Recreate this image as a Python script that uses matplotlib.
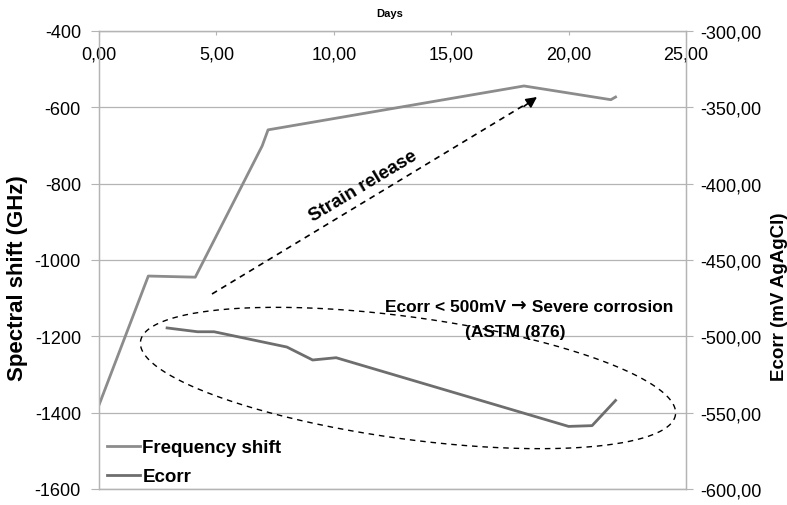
import numpy as np
import matplotlib
matplotlib.use("Agg")
import matplotlib.pyplot as plt
from matplotlib.ticker import FuncFormatter
from matplotlib.lines import Line2D

plt.rcParams['font.family'] = ['Liberation Sans', 'DejaVu Sans']

# ---- data ----
freq_days = [0.0, 2.1, 4.1, 6.95, 7.2, 18.1, 21.8, 22.0]
freq_shift = [-1380, -1042, -1045, -701, -659, -544, -580, -573]

ecorr_days = [2.9, 4.2, 4.9, 8.0, 9.1, 10.1, 20.0, 21.0, 22.0]
ecorr_vals = [-494.5, -497, -497, -507, -515.5, -514, -559, -558.5, -542]

left_ticks = [-1600, -1400, -1200, -1000, -800, -600, -400]
right_ticks = [-600, -550, -500, -450, -400, -350, -300]
day_ticks = [0, 5, 10, 15, 20, 25]

W, H = 787, 506
fig = plt.figure(figsize=(W / 100, H / 100), dpi=100)
L, R, T, B = 99, 686, 32, 490
ax = fig.add_axes([L / W, 1 - B / H, (R - L) / W, (B - T) / H])
ax2 = ax.twinx()

freq_col = '#8c8c8c'
ecorr_col = '#6e6e6e'
grid_col = '#b4b4b4'

ax.plot(freq_days, freq_shift, color=freq_col, lw=2.0, zorder=3)
ax2.plot(ecorr_days, ecorr_vals, color=ecorr_col, lw=2.0, zorder=3)

ax.set_xlim(0, 25)
ax.set_ylim(-1600, -400)
ax2.set_ylim(-600, -300)
ax.set_yticks(left_ticks)
ax2.set_yticks(right_ticks)
ax.set_xticks(day_ticks)

ax.yaxis.set_major_formatter(FuncFormatter(lambda v, p: f"{v:.0f}"))
ax2.yaxis.set_major_formatter(FuncFormatter(lambda v, p: f"{v:.2f}".replace('.', ',')))
ax.xaxis.set_major_formatter(FuncFormatter(lambda v, p: f"{v:.2f}".replace('.', ',')))

ax.grid(axis='y', color=grid_col, lw=0.9)
ax.set_axisbelow(True)

ax.tick_params(axis='x', top=True, labeltop=True, bottom=False, labelbottom=False,
               direction='in', length=3, pad=-23, labelsize=13, color=grid_col)
ax.tick_params(axis='y', direction='out', length=6, labelsize=13, color=grid_col, pad=7)
ax2.tick_params(axis='y', direction='out', length=5, labelsize=13, color=grid_col, pad=5)

for a in (ax, ax2):
    for s in a.spines.values():
        s.set_color(grid_col)
        s.set_linewidth(0.9)

ax.set_ylabel('Spectral shift (GHz)', fontsize=16, fontweight='bold')
ax.yaxis.set_label_coords((28 - L) / (R - L), (B - 278) / (B - T))
ax2.set_ylabel('Ecorr (mV AgAgCl)', fontsize=13.5, fontweight='bold')
ax2.yaxis.set_label_coords((771 - L) / (R - L), (B - 297) / (B - T))
fig.text(390 / W, 1 - 14 / H, 'Days', fontsize=8, fontweight='bold', ha='center', va='center')

# ---- annotations ----
def px2data(px, py):
    return (px - L) * 25 / (R - L), -400 - (py - T) * 1200 / (B - T)

sx, sy = px2data(212, 295)
ex, ey = px2data(531, 102)
tx, ty = px2data(537, 98)
ax.plot([sx, ex], [sy, ey], color='black', lw=1.2, ls=(0, (3.5, 3)), zorder=4)
ax.annotate('', xy=(tx, ty), xytext=(ex - 0.3, ey - 14),
            arrowprops=dict(arrowstyle='-|>', color='black', lw=1.2, mutation_scale=16,
                            shrinkA=0, shrinkB=0), zorder=5)

stx, sty = px2data(363, 187)
ax.text(stx, sty, 'Strain release', rotation=31, fontsize=13.5, fontweight='bold',
        ha='center', va='center', rotation_mode='anchor')

# "Ecorr < 500mV -> Severe corrosion" built from three chained pieces
e1x, e1y = px2data(385, 312)
t1 = ax.text(e1x, e1y, 'Ecorr < 500mV ', fontsize=12.5, fontweight='bold',
             ha='left', va='baseline')
ta = ax.annotate('\u2192', xy=(1, 0), xycoords=t1, va='bottom', ha='left',
                 fontsize=13.5, fontweight='bold', family='DejaVu Sans')
ax.annotate(' Severe corrosion', xy=(1, 0), xycoords=ta, va='bottom', ha='left',
            fontsize=12.5, fontweight='bold')
e2x, e2y = px2data(515, 332)
ax.text(e2x, e2y, '(ASTM (876)', fontsize=12.5, fontweight='bold', ha='center', va='center')

# dashed ellipse (drawn in pixel space, converted to data)
cx, cy, aa, bb, th = 408, 379, 270, 61, np.deg2rad(7.8)
t = np.linspace(0, 2 * np.pi, 400)
epx = cx + aa * np.cos(t) * np.cos(th) - bb * np.sin(t) * np.sin(th)
epy = cy + aa * np.cos(t) * np.sin(th) + bb * np.sin(t) * np.cos(th)
edx, edy = px2data(epx, epy)
ax.plot(edx, edy, color='black', lw=1.0, ls=(0, (4, 3.5)), zorder=4)

# legend
handles = [Line2D([], [], color=freq_col, lw=2.0), Line2D([], [], color=ecorr_col, lw=2.0)]
leg = ax.legend(handles, ['Frequency shift', 'Ecorr'], loc='lower left',
                bbox_to_anchor=(-0.002, -0.012), frameon=False, handlelength=1.75,
                handletextpad=0.12, labelspacing=0.62, borderaxespad=0.1,
                prop={'size': 13.5, 'weight': 'bold'})

fig.savefig('out.png', dpi=100)
